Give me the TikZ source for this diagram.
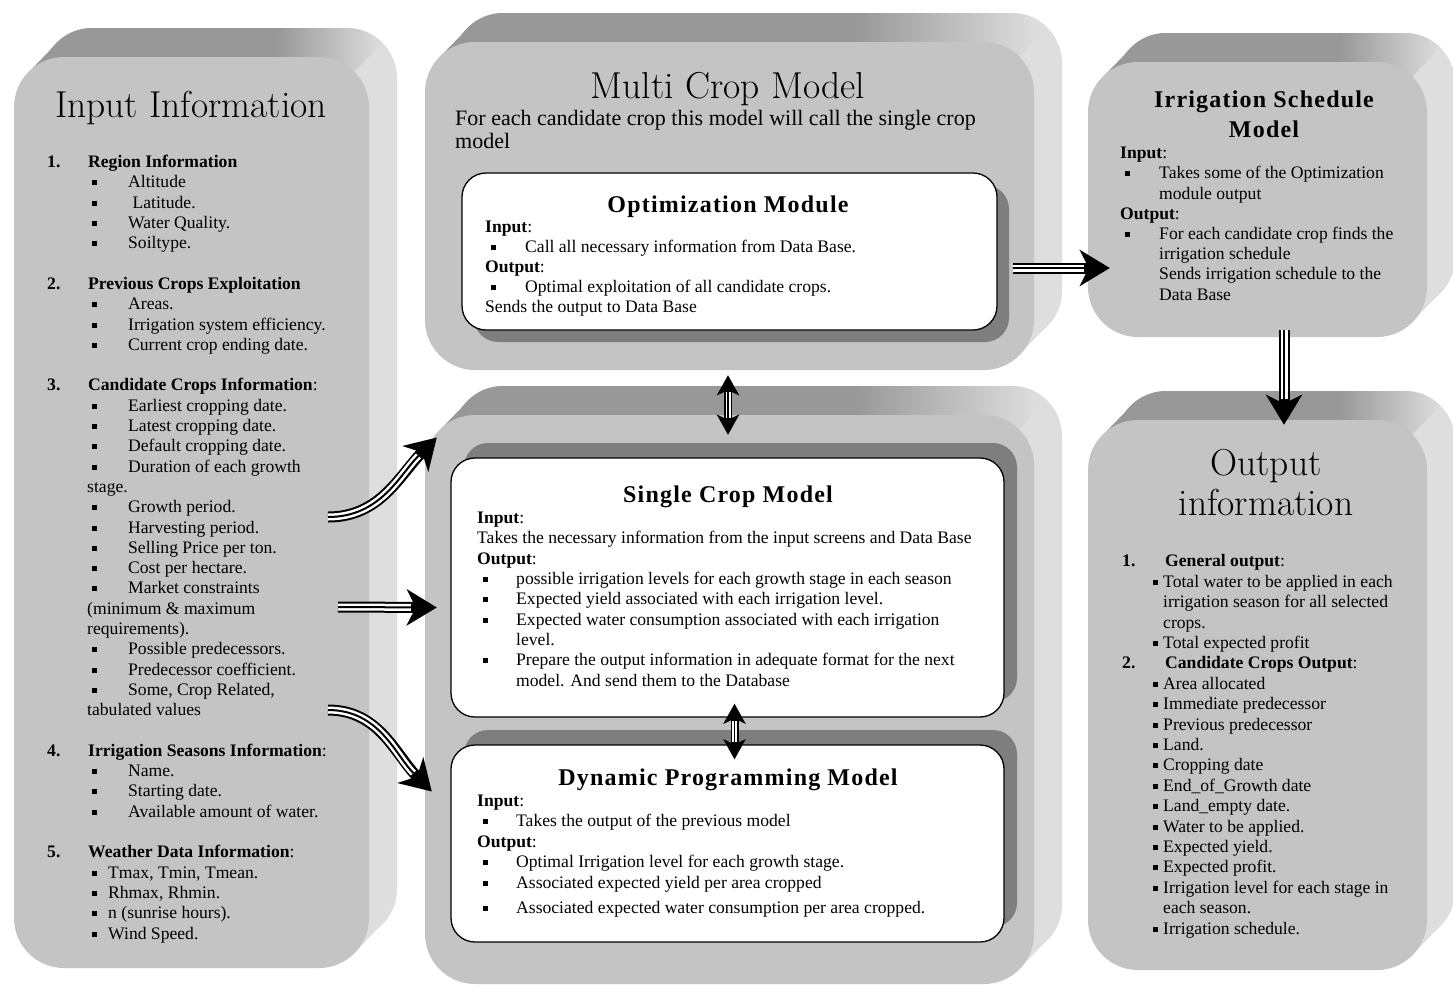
\documentclass[tikz,border=0pt]{standalone}
\usepackage{fontspec}
\usepackage{tikz}
\usetikzlibrary{arrows.meta,shadows}

\newfontfamily\bodyfont{Liberation Serif}
\newfontfamily\headfont[LetterSpace=5]{Liberation Serif}

\definecolor{facegray}{HTML}{C4C4C4}
\definecolor{bevdark}{HTML}{989898}
\definecolor{bevlight}{HTML}{DEDEDE}
\definecolor{shadowgray}{HTML}{7E7E7E}
\pgfdeclarehorizontalshading{bevel}{100bp}{color(0bp)=(bevdark); color(58bp)=(bevdark); color(73bp)=(bevlight); color(100bp)=(bevlight)}

\newcommand{\sq}{\rule[2.5pt]{5pt}{5pt}}
\newcommand{\numhead}[3]{\makebox[#1pt][l]{\textbf{#2}}\textbf{#3}}
\newcommand{\ditem}[3]{\hspace*{#1pt}\makebox[#2pt][l]{\sq}#3}

\begin{document}
\begin{tikzpicture}[x=1pt,y=-1pt,
  face/.style={fill=facegray, rounded corners=50pt, inner sep=0pt},
  card/.style 2 args={fill=white, draw=black, line width=1.3pt, rounded corners=24pt, inner sep=0pt,
    drop shadow={shadow xshift=#1, shadow yshift=#2, fill=shadowgray, opacity=1}},
  body/.style={font=\bodyfont\fontsize{17.6}{20.3}\selectfont, align=left, anchor=base west, inner sep=0pt},
  heading/.style={font=\headfont\bfseries\fontsize{24}{30}\selectfont, align=center, anchor=base, inner sep=0pt},
  bigtitle/.style={font=\fontsize{37.5}{40}\selectfont, align=center, anchor=base, inner sep=0pt},
  fatarrow/.style={line width=11pt, -{Stealth[length=30pt,width=36pt,inset=9pt]},
    postaction={draw=white, line width=7pt, arrows=-, shorten >=26pt},
    postaction={draw=black, line width=2pt, arrows=-, shorten >=26pt}},
  slimarrow/.style={line width=8pt, {Stealth[length=20pt,width=22pt,inset=5pt]}-{Stealth[length=20pt,width=22pt,inset=5pt]},
    postaction={draw=white, line width=5pt, arrows=-, shorten >=17pt, shorten <=17pt},
    postaction={draw=black, line width=1.4pt, arrows=-, shorten >=17pt, shorten <=17pt}}]

\useasboundingbox (0,0) rectangle (1453,989);
\fill[white] (0,0) rectangle (1453,989);

\foreach \nm/\xa/\ya/\xb/\yb in {inpanel/14/57/369/968, multipanel/425/42/1034/370, corepanel/425/415/1034/984, irrpanel/1088/62/1427/337, outpanel/1088/420/1427/970}
{
  \fill[bevlight, rounded corners=50pt] (\xa+28,\ya-29) rectangle (\xb+28,\yb-29);
  \fill[bevlight] (\xa+15,\ya+15) -- ++(28,-29) -- (\xb+13,\yb-44) -- (\xb-15,\yb-15) -- cycle;
  \begin{scope}
    \clip (\xb+41,\ya-43) -- (\xb-1135,\ya+1175) -- (-3000,\ya+1175) -- (-3000,-3000) -- cycle;
    \fill[bevdark] (\xa+15,\ya+15) -- ++(28,-29) -- (\xb+13,\yb-44) -- (\xb-15,\yb-15) -- cycle;
    \shade[shading=bevel, rounded corners=50pt] (\xa+28,\ya-29) rectangle (\xb+28,\yb-29);
  \end{scope}
  \node[face, minimum width=\xb-\xa, minimum height=\yb-\ya] (\nm) at ({(\xa+\xb)/2},{(\ya+\yb)/2}) {};
}

\node[card={12pt}{-12pt}, minimum width=535, minimum height=157] (opt) at (729.5,251.5) {};
\node[card={13pt}{15pt}, minimum width=553, minimum height=259] (single) at (727.5,587.5) {};
\node[card={13pt}{15pt}, minimum width=553, minimum height=197] (dyn) at (727.5,843.5) {};

\node[bigtitle] (intitle) at (191,117) {Input Information};
\node[body] (inlist) at (47,939) {%
\numhead{41}{1.}{Region Information}\\
\ditem{45}{36}{Altitude}\\
\ditem{45}{36}{\ Latitude.}\\
\ditem{45}{36}{Water Quality.}\\
\ditem{45}{36}{Soiltype.}\\[20.3pt]
\numhead{41}{2.}{Previous Crops Exploitation}\\
\ditem{45}{36}{Areas.}\\
\ditem{45}{36}{Irrigation system efficiency.}\\
\ditem{45}{36}{Current crop ending date.}\\[20.3pt]
\numhead{41}{3.}{Candidate Crops Information}:\\
\ditem{45}{36}{Earliest cropping date.}\\
\ditem{45}{36}{Latest cropping date.}\\
\ditem{45}{36}{Default cropping date.}\\
\ditem{45}{36}{Duration of each growth}\\
\hspace*{40pt}stage.\\
\ditem{45}{36}{Growth period.}\\
\ditem{45}{36}{Harvesting period.}\\
\ditem{45}{36}{Selling Price per ton.}\\
\ditem{45}{36}{Cost per hectare.}\\
\ditem{45}{36}{Market constraints}\\
\hspace*{40pt}(minimum \& maximum\\
\hspace*{40pt}requirements).\\
\ditem{45}{36}{Possible predecessors.}\\
\ditem{45}{36}{Predecessor coefficient.}\\
\ditem{45}{36}{Some, Crop Related,}\\
\hspace*{40pt}tabulated values\\[20.3pt]
\numhead{41}{4.}{Irrigation Seasons Information}:\\
\ditem{45}{36}{Name.}\\
\ditem{45}{36}{Starting date.}\\
\ditem{45}{36}{Available amount of water.}\\[20.3pt]
\numhead{41}{5.}{Weather Data Information}:\\
\ditem{45}{16}{Tmax, Tmin, Tmean.}\\
\ditem{45}{16}{Rhmax, Rhmin.}\\
\ditem{45}{16}{n (sunrise hours).}\\
\ditem{45}{16}{Wind Speed.}};

\node[bigtitle] (multititle) at (728,98) {Multi Crop Model};
\node[body, font=\bodyfont\fontsize{22}{23}\selectfont] (multinote) at (455,148) {For each candidate crop this model will call the single crop\\model};

\node[heading] (opttitle) at (728,212) {Optimization Module};
\node[body, font=\bodyfont\fontsize{17.6}{19.8}\selectfont] (opttext) at (485,312) {%
\textbf{Input}:\\
\ditem{6}{34}{Call all necessary information from Data Base.}\\
\textbf{Output}:\\
\ditem{6}{34}{Optimal exploitation of all candidate crops.}\\
Sends the output to Data Base};

\node[heading] (singletitle) at (728,502) {Single Crop Model};
\node[body] (singletext) at (477,686) {%
\textbf{Input}:\\
Takes the necessary information from the input screens and Data Base\\
\textbf{Output}:\\
\ditem{6}{33}{possible irrigation levels for each growth stage in each season}\\
\ditem{6}{33}{Expected yield associated with each irrigation level.}\\
\ditem{6}{33}{Expected water consumption associated with each irrigation}\\
\hspace*{39pt}level.\\
\ditem{6}{33}{Prepare the output information in adequate format for the next}\\
\hspace*{39pt}model. And send them to the Database};

\node[heading] (dyntitle) at (728,785) {Dynamic Programming Model};
\node[body, font=\bodyfont\fontsize{17.6}{20.5}\selectfont] (dyntext) at (477,913) {%
\textbf{Input}:\\
\ditem{6}{33}{Takes the output of the previous model}\\
\textbf{Output}:\\
\ditem{6}{33}{Optimal Irrigation level for each growth stage.}\\
\ditem{6}{33}{Associated expected yield per area cropped}\\[4.5pt]
\ditem{6}{33}{Associated expected water consumption per area cropped.}};

\node[heading] (irrtitle) at (1264,137) {Irrigation Schedule\\Model};
\node[body, font=\bodyfont\fontsize{17.6}{20.2}\selectfont] (irrtext) at (1120,300) {%
\textbf{Input}:\\
\ditem{5}{34}{Takes some of the Optimization}\\
\hspace*{39pt}module output\\
\textbf{Output}:\\
\ditem{5}{34}{For each candidate crop finds the}\\
\hspace*{39pt}irrigation schedule\\
\hspace*{39pt}Sends irrigation schedule to the\\
\hspace*{39pt}Data Base};

\node[bigtitle] (outtitle) at (1266,515) {Output\\information};
\node[body, font=\bodyfont\fontsize{17.6}{20.4}\selectfont] (outlist) at (1122,934) {%
\numhead{43}{1.}{General output}:\\
\ditem{31}{10}{Total water to be applied in each}\\
\hspace*{41pt}irrigation season for all selected\\
\hspace*{41pt}crops.\\
\ditem{31}{10}{Total expected profit}\\
\numhead{43}{2.}{Candidate Crops Output}:\\
\ditem{31}{10}{Area allocated}\\
\ditem{31}{10}{Immediate predecessor}\\
\ditem{31}{10}{Previous predecessor}\\
\ditem{31}{10}{Land.}\\
\ditem{31}{10}{Cropping date}\\
\ditem{31}{10}{End\_of\_Growth date}\\
\ditem{31}{10}{Land\_empty date.}\\
\ditem{31}{10}{Water to be applied.}\\
\ditem{31}{10}{Expected yield.}\\
\ditem{31}{10}{Expected profit.}\\
\ditem{31}{10}{Irrigation level for each stage in}\\
\hspace*{41pt}each season.\\
\ditem{31}{10}{Irrigation schedule.}};

\coordinate (growth) at (328,517);
\coordinate (price) at (338,607);
\coordinate (tabval) at (328,710);

\draw[fatarrow] (growth) to[out=0, in=225] ([shift={(12,-262)}]corepanel.west);
\draw[fatarrow] (price) -- ([shift={(12,-92)}]corepanel.west);
\draw[fatarrow] (tabval) to[out=0, in=135] ([shift={(7,92)}]corepanel.west);
\draw[fatarrow] ([shift={(15,16.5)}]opt.east) -- ([shift={(22,68.5)}]irrpanel.west);
\draw[fatarrow] ([shift={(26.5,-7)}]irrpanel.south) -- ([shift={(26.5,5)}]outpanel.north);
\draw[slimarrow] ([shift={(-1.5,5)}]multipanel.south) -- ([shift={(-1.5,20)}]corepanel.north);
\draw[slimarrow] ([shift={(7,-14)}]single.south) -- ([shift={(7,15)}]dyn.north);
\end{tikzpicture}
\end{document}
